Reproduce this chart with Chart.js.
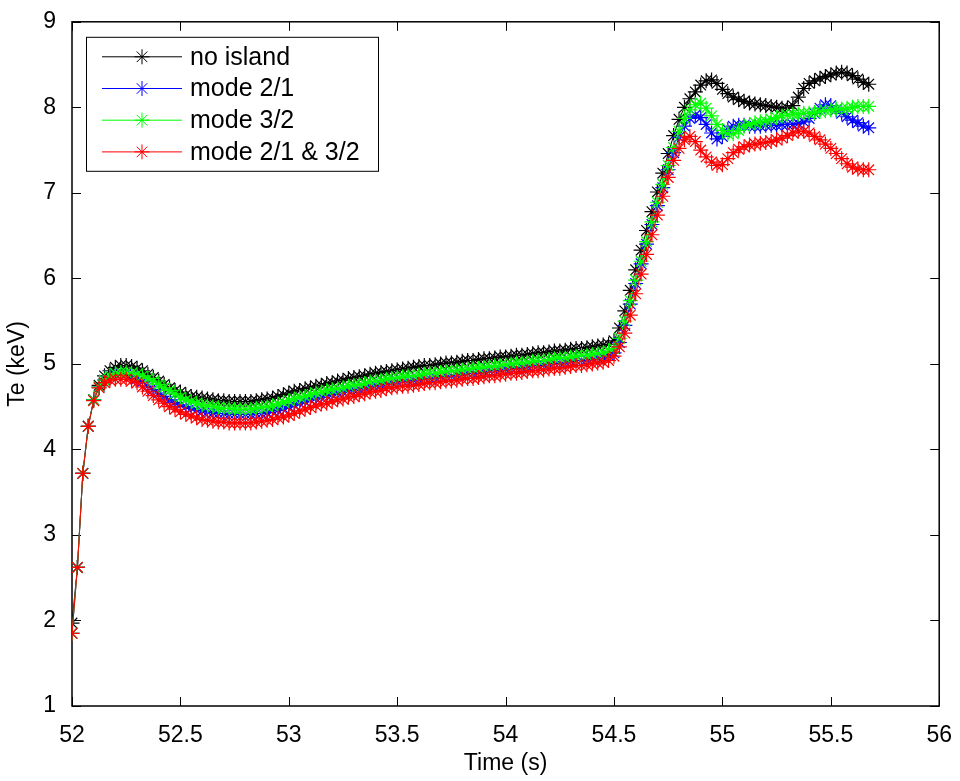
<!DOCTYPE html>
<html>
<head>
<meta charset="utf-8">
<title>Te vs time</title>
<script src="https://cdn.jsdelivr.net/npm/chart.js@4.4.1/dist/chart.umd.min.js"></script>
<style>
  html, body { margin: 0; padding: 0; background: #fff; }
  #wrap { width: 960px; height: 781px; }
</style>
</head>
<body>
<div id="wrap"><canvas id="teChart" width="960" height="781"></canvas></div>
<script>
// Tiempo (s)
const tiempos = [
  52, 52.025, 52.05, 52.075, 52.1, 52.125, 52.15, 52.175, 52.2, 52.225,
  52.25, 52.275, 52.3, 52.325, 52.35, 52.375, 52.4, 52.425, 52.45, 52.475,
  52.5, 52.525, 52.55, 52.575, 52.6, 52.625, 52.65, 52.675, 52.7, 52.725,
  52.75, 52.775, 52.8, 52.825, 52.85, 52.875, 52.9, 52.925, 52.95, 52.975,
  53, 53.025, 53.05, 53.075, 53.1, 53.125, 53.15, 53.175, 53.2, 53.225,
  53.25, 53.275, 53.3, 53.325, 53.35, 53.375, 53.4, 53.425, 53.45, 53.475,
  53.5, 53.525, 53.55, 53.575, 53.6, 53.625, 53.65, 53.675, 53.7, 53.725,
  53.75, 53.775, 53.8, 53.825, 53.85, 53.875, 53.9, 53.925, 53.95, 53.975,
  54, 54.025, 54.05, 54.075, 54.1, 54.125, 54.15, 54.175, 54.2, 54.225,
  54.25, 54.275, 54.3, 54.325, 54.35, 54.375, 54.4, 54.425, 54.45, 54.475,
  54.5, 54.525, 54.55, 54.575, 54.6, 54.625, 54.65, 54.675, 54.7, 54.725,
  54.75, 54.775, 54.8, 54.825, 54.85, 54.875, 54.9, 54.925, 54.95, 54.975,
  55, 55.025, 55.05, 55.075, 55.1, 55.125, 55.15, 55.175, 55.2, 55.225,
  55.25, 55.275, 55.3, 55.325, 55.35, 55.375, 55.4, 55.425, 55.45, 55.475,
  55.5, 55.525, 55.55, 55.575, 55.6, 55.625, 55.65, 55.675
];

// Te (keV)
const noIsland = [
  1.97, 2.62, 3.72, 4.27, 4.58, 4.75, 4.86, 4.92, 4.96, 4.98,
  4.98, 4.97, 4.95, 4.92, 4.88, 4.84, 4.8, 4.76, 4.72, 4.69,
  4.67, 4.64, 4.62, 4.61, 4.6, 4.59, 4.58, 4.57, 4.57, 4.56,
  4.56, 4.56, 4.56, 4.56, 4.57, 4.58, 4.59, 4.6, 4.62, 4.64,
  4.66, 4.68, 4.69, 4.71, 4.72, 4.74, 4.75, 4.77, 4.78, 4.8,
  4.81, 4.83, 4.84, 4.85, 4.86, 4.88, 4.89, 4.9, 4.91, 4.92,
  4.93, 4.94, 4.95, 4.96, 4.97, 4.98, 4.98, 4.99, 5.0, 5.01,
  5.01, 5.02, 5.03, 5.04, 5.04, 5.05, 5.06, 5.06, 5.07, 5.08,
  5.08, 5.09, 5.1, 5.1, 5.11, 5.12, 5.13, 5.13, 5.14, 5.15,
  5.15, 5.16, 5.17, 5.18, 5.18, 5.19, 5.2, 5.21, 5.22, 5.23,
  5.27, 5.42, 5.62, 5.86, 6.1, 6.33, 6.56, 6.78, 7.01, 7.23,
  7.46, 7.67, 7.86, 8.0, 8.1, 8.18, 8.26, 8.31, 8.32, 8.28,
  8.21, 8.16, 8.12, 8.09, 8.07, 8.05, 8.04, 8.03, 8.02, 8.01,
  8.0, 7.99, 7.99, 8.02, 8.12, 8.22, 8.28, 8.31, 8.34, 8.36,
  8.38, 8.4, 8.41, 8.4, 8.37, 8.33, 8.29, 8.27
];

const modo21 = [
  1.85, 2.62, 3.72, 4.27, 4.58, 4.73, 4.81, 4.86, 4.88, 4.89,
  4.88, 4.86, 4.83, 4.79, 4.74, 4.7, 4.66, 4.62, 4.58, 4.55,
  4.52, 4.5, 4.48, 4.46, 4.45, 4.44, 4.43, 4.42, 4.42, 4.41,
  4.41, 4.41, 4.41, 4.41, 4.42, 4.42, 4.43, 4.45, 4.46, 4.48,
  4.5, 4.52, 4.54, 4.56, 4.58, 4.6, 4.61, 4.63, 4.64, 4.66,
  4.67, 4.69, 4.7, 4.71, 4.72, 4.74, 4.75, 4.76, 4.77, 4.78,
  4.79, 4.8, 4.8, 4.81, 4.82, 4.83, 4.83, 4.84, 4.85, 4.86,
  4.86, 4.87, 4.88, 4.89, 4.89, 4.9, 4.91, 4.92, 4.92, 4.93,
  4.94, 4.95, 4.95, 4.96, 4.97, 4.98, 4.98, 4.99, 5.0, 5.01,
  5.01, 5.02, 5.03, 5.04, 5.04, 5.05, 5.06, 5.07, 5.08, 5.1,
  5.13, 5.25, 5.45, 5.7, 5.94, 6.17, 6.4, 6.63, 6.85, 7.06,
  7.27, 7.47, 7.65, 7.78, 7.87, 7.91, 7.88, 7.8, 7.7, 7.63,
  7.66, 7.74, 7.78, 7.79, 7.79, 7.78, 7.78, 7.78, 7.79, 7.79,
  7.79, 7.8, 7.8, 7.8, 7.81, 7.83, 7.87, 7.93, 7.99, 8.03,
  8.02, 7.97, 7.93, 7.89, 7.85, 7.82, 7.78, 7.76
];

const modo32 = [
  1.85, 2.62, 3.72, 4.27, 4.58, 4.73, 4.81, 4.86, 4.89, 4.9,
  4.9, 4.89, 4.88, 4.86, 4.83, 4.8, 4.76, 4.72, 4.69, 4.65,
  4.61, 4.58, 4.56, 4.54, 4.52, 4.51, 4.5, 4.49, 4.48, 4.48,
  4.47, 4.47, 4.47, 4.47, 4.48, 4.49, 4.5, 4.51, 4.53, 4.55,
  4.57, 4.59, 4.61, 4.62, 4.64, 4.66, 4.67, 4.69, 4.7, 4.71,
  4.72, 4.74, 4.75, 4.76, 4.77, 4.79, 4.8, 4.81, 4.82, 4.83,
  4.84, 4.85, 4.86, 4.86, 4.87, 4.88, 4.89, 4.89, 4.9, 4.91,
  4.92, 4.92, 4.93, 4.94, 4.95, 4.95, 4.96, 4.97, 4.98, 4.98,
  4.99, 5.0, 5.01, 5.01, 5.02, 5.03, 5.04, 5.04, 5.05, 5.06,
  5.07, 5.07, 5.08, 5.09, 5.1, 5.1, 5.11, 5.12, 5.13, 5.15,
  5.18, 5.3, 5.5, 5.74, 5.98, 6.2, 6.43, 6.66, 6.89, 7.1,
  7.32, 7.53, 7.72, 7.87, 7.97, 8.03, 8.05, 7.99, 7.9, 7.8,
  7.73, 7.69, 7.69, 7.73, 7.78, 7.8, 7.82, 7.83, 7.84, 7.86,
  7.88, 7.9, 7.91, 7.92, 7.92, 7.93, 7.93, 7.94, 7.95, 7.96,
  7.97, 7.98, 7.98, 7.99, 8.0, 8.01, 8.01, 8.01
];

const modo21y32 = [
  1.85, 2.62, 3.72, 4.27, 4.57, 4.72, 4.78, 4.81, 4.82, 4.82,
  4.82, 4.8, 4.78, 4.73, 4.68, 4.63, 4.58, 4.54, 4.5, 4.47,
  4.44, 4.41, 4.39, 4.37, 4.35, 4.34, 4.33, 4.32, 4.32, 4.31,
  4.31, 4.31, 4.31, 4.31, 4.32, 4.33, 4.34, 4.35, 4.37, 4.38,
  4.4, 4.42, 4.45, 4.47, 4.49, 4.51, 4.53, 4.54, 4.56, 4.58,
  4.59, 4.61, 4.62, 4.64, 4.65, 4.67, 4.68, 4.69, 4.71, 4.72,
  4.73, 4.74, 4.74, 4.75, 4.76, 4.77, 4.78, 4.78, 4.79, 4.8,
  4.8, 4.81, 4.82, 4.83, 4.83, 4.84, 4.85, 4.86, 4.86, 4.87,
  4.88, 4.89, 4.89, 4.9, 4.91, 4.92, 4.92, 4.93, 4.94, 4.95,
  4.95, 4.96, 4.97, 4.98, 4.98, 4.99, 5.0, 5.01, 5.02, 5.04,
  5.09, 5.2, 5.36, 5.57, 5.82, 6.05, 6.28, 6.51, 6.74, 6.96,
  7.18, 7.38, 7.52, 7.62, 7.66, 7.6, 7.5, 7.42, 7.36, 7.32,
  7.33, 7.4, 7.47, 7.51, 7.54, 7.56, 7.57, 7.58, 7.59, 7.6,
  7.62, 7.64, 7.67, 7.7, 7.72, 7.72, 7.7, 7.66, 7.62, 7.57,
  7.52, 7.46, 7.4, 7.34, 7.3, 7.28, 7.27, 7.27
];

const nombres = ['no island', 'mode 2/1', 'mode 3/2', 'mode 2/1 & 3/2'];
const colores = ['#000000', '#0000ff', '#00ff00', '#ff0000'];
const series = [noIsland, modo21, modo32, modo21y32];

const fuente = '"Liberation Sans", Arial, sans-serif';
const radioMarca = 7.5;

function crearSerie(valores, i) {
  return {
    label: nombres[i],
    data: valores.map((v, k) => ({ x: tiempos[k], y: v })),
    borderColor: colores[i],
    backgroundColor: colores[i],
    borderWidth: 1,
    pointStyle: 'star',
    pointRadius: radioMarca,
    pointBorderWidth: 1.2,
    pointBorderColor: colores[i],
    tension: 0,
    // el primero queda abajo, el rojo encima
    order: series.length - i
  };
}

// caja de ejes con marcas hacia dentro (estilo matlab)
const marcoEjes = {
  id: 'marcoEjes',
  beforeDatasetsDraw(chart) {
    const { ctx, chartArea: a, scales: { x, y } } = chart;
    ctx.save();
    ctx.strokeStyle = '#000';
    ctx.lineWidth = 1;
    ctx.beginPath();
    x.ticks.forEach(t => {
      const px = Math.round(x.getPixelForValue(t.value)) + 0.5;
      ctx.moveTo(px, a.bottom); ctx.lineTo(px, a.bottom - 9);
      ctx.moveTo(px, a.top); ctx.lineTo(px, a.top + 9);
    });
    y.ticks.forEach(t => {
      const py = Math.round(y.getPixelForValue(t.value)) + 0.5;
      ctx.moveTo(a.left, py); ctx.lineTo(a.left + 9, py);
      ctx.moveTo(a.right, py); ctx.lineTo(a.right - 9, py);
    });
    ctx.stroke();
    ctx.lineWidth = 1.5;
    ctx.strokeRect(a.left, a.top, a.right - a.left, a.bottom - a.top);
    ctx.restore();
  }
};

// leyenda dentro del area, arriba a la izquierda
const leyenda = {
  id: 'leyenda',
  afterDraw(chart) {
    const { ctx, chartArea: a } = chart;
    const bx = a.left + 14, by = a.top + 15, bw = 292, bh = 134;
    ctx.save();
    ctx.fillStyle = '#fff';
    ctx.fillRect(bx, by, bw, bh);
    ctx.strokeStyle = '#000';
    ctx.lineWidth = 1;
    ctx.strokeRect(bx + 0.5, by + 0.5, bw, bh);
    chart.data.datasets.forEach((ds, i) => {
      const yy = by + 20 + i * 31.7;
      ctx.strokeStyle = ds.borderColor;
      ctx.lineWidth = 1;
      ctx.beginPath();
      ctx.moveTo(bx + 16, yy);
      ctx.lineTo(bx + 96, yy);
      ctx.stroke();
      Chart.helpers.drawPoint(ctx, { pointStyle: 'star', radius: radioMarca, borderWidth: 1.2, rotation: 0 }, bx + 56, yy);
      ctx.fillStyle = '#000';
      ctx.font = '25px ' + fuente;
      ctx.textBaseline = 'middle';
      ctx.textAlign = 'left';
      ctx.fillText(ds.label, bx + 104, yy + 1);
    });
    ctx.restore();
  }
};

const ctx = document.getElementById('teChart').getContext('2d');

new Chart(ctx, {
  type: 'line',
  data: { datasets: series.map(crearSerie) },
  options: {
    responsive: false,
    animation: false,
    devicePixelRatio: 1,
    layout: { padding: { top: 18, right: 19, left: 0, bottom: 0 } },
    plugins: {
      legend: { display: false },
      tooltip: { enabled: false }
    },
    scales: {
      x: {
        type: 'linear',
        min: 52,
        max: 56,
        grid: { display: false },
        border: { display: false },
        ticks: {
          stepSize: 0.5,
          padding: 8,
          color: '#000',
          font: { family: fuente, size: 23 },
          maxRotation: 0,
          callback: v => String(v)
        },
        title: {
          display: true,
          text: 'Time (s)',
          color: '#000',
          font: { family: fuente, size: 23 },
          padding: { top: 0, bottom: 4 }
        },
        afterFit: s => { s.height = 75; }
      },
      y: {
        type: 'linear',
        min: 1,
        max: 9,
        grid: { display: false },
        border: { display: false },
        ticks: {
          stepSize: 1,
          padding: 8,
          color: '#000',
          font: { family: fuente, size: 23 },
          callback: v => String(v)
        },
        title: {
          display: true,
          text: 'Te (keV)',
          color: '#000',
          font: { family: fuente, size: 23 },
          padding: { top: 4, bottom: 0 }
        },
        afterFit: s => { s.width = 72; }
      }
    }
  },
  plugins: [marcoEjes, leyenda]
});
</script>
</body>
</html>
